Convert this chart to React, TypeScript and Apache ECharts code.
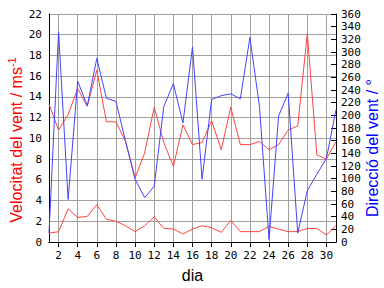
import React, { useEffect, useRef } from "react";
import * as echarts from "echarts";

const days = Array.from({ length: 31 }, (_, i) => i + 1);
const evenDays = [2, 4, 6, 8, 10, 12, 14, 16, 18, 20, 22, 24, 26, 28, 30];
const maxSpeed = [13.3, 10.8, 12.3, 14.8, 13.1, 16.6, 11.6, 11.6, 9.7, 6.2, 8.6, 13.0, 9.6, 7.3, 11.3, 9.4, 9.6, 11.7, 8.9, 13.0, 9.4, 9.4, 9.7, 8.9, 9.4, 10.8, 11.2, 20.1, 8.4, 8.0, 9.7];
const meanSpeed = [0.86, 0.99, 3.2, 2.37, 2.47, 3.6, 2.2, 2.0, 1.57, 1.0, 1.57, 2.43, 1.31, 1.25, 0.77, 1.25, 1.57, 1.38, 0.93, 2.08, 1.0, 1.0, 1.0, 1.5, 1.25, 1.0, 1.0, 1.31, 1.31, 0.67, 1.6];
const direction = [14, 332, 67, 254, 215, 290, 227, 222, 159, 99, 70, 88, 214, 250, 188, 308, 99, 225, 231, 234, 226, 323, 214, 4, 199, 235, 14, 81, 107, 132, 209];

const RED = "#ff4444";
const BLUE = "#4444ff";
const MONO = "'DejaVu Sans Mono', monospace";
const SANS = "'Liberation Sans', Arial, sans-serif";

export default function App() {
  const ref = useRef<HTMLDivElement>(null);
  useEffect(() => {
    if (!ref.current) return;
    const chart = echarts.init(ref.current, null, { renderer: "svg" });
    const pair = (arr: number[]) => days.map((d, i) => [d, arr[i]]);
    chart.setOption({
      animation: false,
      backgroundColor: "#ffffff",
      grid: { left: 49, right: 48, top: 14, bottom: 45 },
      xAxis: [
        {
          type: "value",
          position: "bottom",
          min: 1,
          max: 31,
          axisLine: { show: true, lineStyle: { color: "#000", width: 1 } },
          axisTick: { show: true, inside: false, length: 5, customValues: evenDays, lineStyle: { color: "#000" } },
          axisLabel: { customValues: evenDays, margin: 8, color: "#000", fontFamily: MONO, fontSize: 11 },
          splitLine: { show: true, lineStyle: { color: "#a0a0a0", width: 1 } },
          name: "dia",
          nameLocation: "middle",
          nameGap: 25,
          nameTextStyle: { color: "#000", fontFamily: SANS, fontSize: 16 },
        },
        {
          type: "value",
          position: "top",
          min: 1,
          max: 31,
          axisLine: { show: true, lineStyle: { color: "#000", width: 1 } },
          axisTick: { show: true, inside: true, length: 5, customValues: evenDays, lineStyle: { color: "#000" } },
          axisLabel: { show: false },
          splitLine: { show: false },
        },
      ],
      yAxis: [
        {
          type: "value",
          position: "left",
          min: 0,
          max: 22,
          interval: 2,
          axisLine: { show: true, lineStyle: { color: "#000", width: 1 } },
          axisTick: { show: false },
          axisLabel: { margin: 7, color: "#000", fontFamily: MONO, fontSize: 11 },
          splitLine: { show: true, lineStyle: { color: "#a0a0a0", width: 1 } },
        },
        {
          type: "value",
          position: "right",
          min: 0,
          max: 360,
          interval: 20,
          axisLine: { show: true, lineStyle: { color: "#000", width: 1 } },
          axisTick: { show: true, inside: true, length: 5, lineStyle: { color: "#000" } },
          axisLabel: { margin: 5, color: "#000", fontFamily: MONO, fontSize: 11 },
          splitLine: { show: false },
        },
      ],
      graphic: [
        {
          type: "text",
          x: 16,
          y: 140,
          rotation: Math.PI / 2,
          style: {
            text: "Velocitat del vent / ms{sup|-1}",
            fill: "#ff0000",
            font: `16px ${SANS}`,
            align: "center",
            verticalAlign: "middle",
            rich: {
              sup: { fontSize: 11, fontFamily: SANS, fill: "#ff0000", padding: [0, 0, 9, 0] },
            },
          },
        },
        {
          type: "text",
          x: 372,
          y: 148,
          rotation: Math.PI / 2,
          style: {
            text: "Direcció del vent / °",
            fill: "#0000ff",
            font: `16px ${SANS}`,
            align: "center",
            verticalAlign: "middle",
          },
        },
      ],
      series: [
        {
          type: "line",
          xAxisIndex: 0,
          yAxisIndex: 0,
          data: pair(maxSpeed),
          symbol: "none",
          lineStyle: { color: RED, width: 1 },
        },
        {
          type: "line",
          xAxisIndex: 0,
          yAxisIndex: 0,
          data: pair(meanSpeed),
          symbol: "none",
          lineStyle: { color: RED, width: 1 },
        },
        {
          type: "line",
          xAxisIndex: 0,
          yAxisIndex: 1,
          data: pair(direction),
          symbol: "none",
          lineStyle: { color: BLUE, width: 1 },
        },
      ],
    });
    return () => chart.dispose();
  }, []);
  return (
    <div
      ref={ref}
      style={{ position: "fixed", left: 0, top: 0, width: 384, height: 288, background: "#fff" }}
    />
  );
}
